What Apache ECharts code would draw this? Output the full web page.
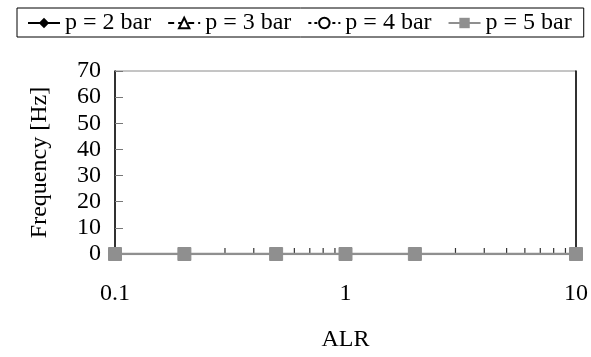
<!DOCTYPE html>
<html>
<head>
<meta charset="utf-8">
<style>
  html, body { margin: 0; padding: 0; background: #fff; }
  #chart { width: 591px; height: 357px; }
</style>
<script src="https://cdn.jsdelivr.net/npm/echarts@6/dist/echarts.min.js"></script>
</head>
<body>
<div id="chart"></div>
<script>
// Air-to-liquid ratio (ALR) sample points
const alr = [0.1, 0.2, 0.5, 1, 2, 10];

// Frequency [Hz] per pressure
const freqP2 = [0, 0, 0, 0, 0, 0];
const freqP3 = [0, 0, 0, 0, 0, 0];
const freqP4 = [0, 0, 0, 0, 0, 0];
const freqP5 = [0, 0, 0, 0, 0, 0];

const seriesNames = ['p = 2 bar', 'p = 3 bar', 'p = 4 bar', 'p = 5 bar'];

// Minor tick positions on the logarithmic ALR axis
const minorTicks = [0.2, 0.3, 0.4, 0.5, 0.6, 0.7, 0.8, 0.9, 2, 3, 4, 5, 6, 7, 8, 9];

const FONT = '"Liberation Serif", "Times New Roman", serif';

const pairs = (xs, ys) => xs.map((x, i) => [x, ys[i]]);

const chart = echarts.init(document.getElementById('chart'), null, { renderer: 'canvas' });

chart.setOption({
  animation: false,
  textStyle: { fontFamily: FONT, color: '#000' },
  legend: {
    data: seriesNames,
    left: 17,
    top: 8,
    padding: [3, 12, 2, 10],
    itemGap: 16,
    itemWidth: 32,
    itemHeight: 13,
    borderColor: '#000',
    borderWidth: 1,
    textStyle: { fontFamily: FONT, fontSize: 24, color: '#000' }
  },
  grid: {
    left: 115, right: 15, top: 71, bottom: 99,
    show: true, borderColor: '#8a8a8a', borderWidth: 1
  },
  xAxis: {
    type: 'log',
    logBase: 10,
    min: 0.1,
    max: 10,
    name: 'ALR',
    nameLocation: 'middle',
    nameGap: 74,
    nameTextStyle: { fontFamily: FONT, fontSize: 24, color: '#000' },
    axisLine: { lineStyle: { color: '#000', width: 1 } },
    axisTick: { show: false },
    axisLabel: {
      fontFamily: FONT, fontSize: 24, color: '#000', margin: 28,
      formatter: v => String(v)
    },
    splitLine: { show: false }
  },
  yAxis: [{
    type: 'value',
    min: 0,
    max: 70,
    interval: 10,
    name: 'Frequency [Hz]',
    nameLocation: 'middle',
    nameGap: 63,
    nameRotate: 90,
    nameTextStyle: { fontFamily: FONT, fontSize: 24, color: '#000' },
    axisLine: { show: true, lineStyle: { color: '#000', width: 1.5 } },
    axisTick: { show: true, inside: true, length: 8, lineStyle: { color: '#777' } },
    axisLabel: { fontFamily: FONT, fontSize: 24, color: '#000', margin: 14 },
    splitLine: { show: false }
  }, {
    type: 'value',
    position: 'right',
    min: 0,
    max: 70,
    interval: 10,
    axisLine: { show: true, lineStyle: { color: '#000', width: 1.5 } },
    axisTick: { show: false },
    axisLabel: { show: false },
    splitLine: { show: false }
  }],
  series: [
    {
      name: 'minor ticks',
      type: 'scatter',
      silent: true,
      data: minorTicks.map(x => [x, 0]),
      symbol: 'rect',
      symbolSize: [1.2, 6],
      symbolOffset: [0, -3],
      itemStyle: { color: '#000' },
      z: 1
    },
    {
      name: seriesNames[0],
      type: 'line',
      data: pairs(alr, freqP2),
      symbol: 'diamond',
      symbolSize: 12,
      lineStyle: { color: '#000', width: 2, type: 'solid' },
      itemStyle: { color: '#000', borderColor: '#000' },
      z: 2
    },
    {
      name: seriesNames[1],
      type: 'line',
      data: pairs(alr, freqP3),
      symbol: 'triangle',
      symbolSize: 11,
      lineStyle: { color: '#000', width: 2, type: [6, 4] },
      itemStyle: { color: '#fff', borderColor: '#000', borderWidth: 1 },
      z: 3
    },
    {
      name: seriesNames[2],
      type: 'line',
      data: pairs(alr, freqP4),
      symbol: 'circle',
      symbolSize: 11,
      lineStyle: { color: '#000', width: 2, type: [3, 3] },
      itemStyle: { color: '#fff', borderColor: '#000', borderWidth: 1 },
      z: 4
    },
    {
      name: seriesNames[3],
      type: 'line',
      data: pairs(alr, freqP5),
      symbol: 'rect',
      symbolSize: 13,
      lineStyle: { color: '#8f8f8f', width: 2.5, type: 'solid' },
      itemStyle: { color: '#8f8f8f', borderColor: '#8f8f8f' },
      z: 5
    }
  ]
});
</script>
</body>
</html>
